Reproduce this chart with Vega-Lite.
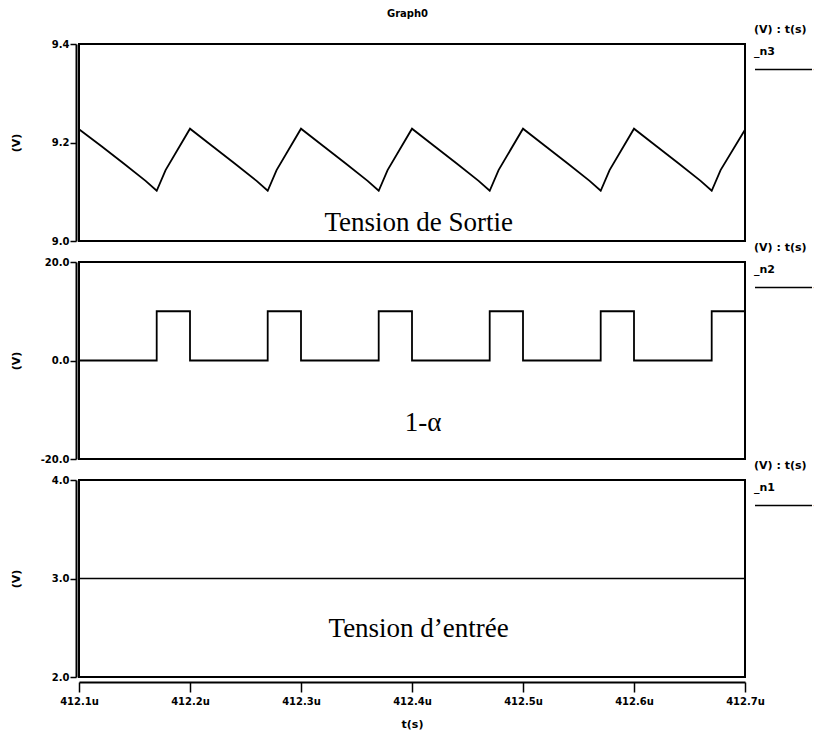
{
  "$schema": "https://vega.github.io/schema/vega-lite/v6.json",
  "background": "white",
  "padding": {"left": 9, "top": 9, "right": 0, "bottom": 4},
  "bounds": "flush",
  "spacing": 21,
  "title": {"text": "Graph0", "font": "DejaVu Sans", "fontSize": 10, "fontWeight": "bold", "color": "black", "anchor": "middle", "offset": 4, "dx": -5},
  "datasets": {
    "vout": [
      {"t": 412.1, "v": 9.227}, {"t": 412.12, "v": 9.193}, {"t": 412.14, "v": 9.158}, {"t": 412.16, "v": 9.122}, {"t": 412.17, "v": 9.102}, {"t": 412.178, "v": 9.144},
      {"t": 412.2, "v": 9.228}, {"t": 412.22, "v": 9.193}, {"t": 412.24, "v": 9.158}, {"t": 412.26, "v": 9.122}, {"t": 412.27, "v": 9.102}, {"t": 412.278, "v": 9.144},
      {"t": 412.3, "v": 9.228}, {"t": 412.32, "v": 9.193}, {"t": 412.34, "v": 9.158}, {"t": 412.36, "v": 9.122}, {"t": 412.37, "v": 9.102}, {"t": 412.378, "v": 9.144},
      {"t": 412.4, "v": 9.228}, {"t": 412.42, "v": 9.193}, {"t": 412.44, "v": 9.158}, {"t": 412.46, "v": 9.122}, {"t": 412.47, "v": 9.102}, {"t": 412.478, "v": 9.144},
      {"t": 412.5, "v": 9.228}, {"t": 412.52, "v": 9.193}, {"t": 412.54, "v": 9.158}, {"t": 412.56, "v": 9.122}, {"t": 412.57, "v": 9.102}, {"t": 412.578, "v": 9.144},
      {"t": 412.6, "v": 9.228}, {"t": 412.62, "v": 9.193}, {"t": 412.64, "v": 9.158}, {"t": 412.66, "v": 9.122}, {"t": 412.67, "v": 9.102}, {"t": 412.678, "v": 9.144},
      {"t": 412.7, "v": 9.226}
    ],
    "pwm": [
      {"t": 412.1, "v": 0}, {"t": 412.17, "v": 10}, {"t": 412.2, "v": 0},
      {"t": 412.27, "v": 10}, {"t": 412.3, "v": 0},
      {"t": 412.37, "v": 10}, {"t": 412.4, "v": 0},
      {"t": 412.47, "v": 10}, {"t": 412.5, "v": 0},
      {"t": 412.57, "v": 10}, {"t": 412.6, "v": 0},
      {"t": 412.67, "v": 10}, {"t": 412.7, "v": 10}
    ],
    "vin": [{"t": 412.1, "v": 3.0}, {"t": 412.7, "v": 3.0}],
    "notes1": [{"t": 412.406, "v": 9.02, "label": "Tension de Sortie"}],
    "notes2": [{"t": 412.41, "v": -14.3, "label": "1-α"}],
    "notes3": [{"t": 412.406, "v": 2.403, "label": "Tension d’entrée"}]
  },
  "resolve": {"scale": {"color": "independent", "y": "independent"}, "legend": {"color": "independent"}},
  "vconcat": [
    {
      "width": 666, "height": 197,
      "layer": [
        {
          "data": {"name": "vout"},
          "mark": {"type": "line", "strokeWidth": 1.8},
          "encoding": {
            "x": {"field": "t", "type": "quantitative", "scale": {"domain": [412.1, 412.7], "nice": false, "zero": false}, "axis": null},
            "y": {"field": "v", "type": "quantitative", "scale": {"domain": [9.0, 9.4], "nice": false, "zero": false},
                  "axis": {"title": "(V)", "values": [9.0, 9.2, 9.4], "labelExpr": "replace(format(datum.value, '.1f'), '−', '-')"}},
            "color": {"datum": "_n3", "scale": {"range": ["black"]},
                      "legend": {"orient": "none", "legendX": 675, "legendY": -20, "title": ["(V) : t(s)", "_n3"]}}
          }
        },
        {
          "data": {"name": "notes1"},
          "mark": {"type": "text", "font": "Liberation Serif", "fontSize": 27, "color": "black", "baseline": "alphabetic", "align": "center"},
          "encoding": {
            "x": {"field": "t", "type": "quantitative"},
            "y": {"field": "v", "type": "quantitative"},
            "text": {"field": "label"}
          }
        }
      ]
    },
    {
      "width": 666, "height": 197,
      "layer": [
        {
          "data": {"name": "pwm"},
          "mark": {"type": "line", "strokeWidth": 1.8, "interpolate": "step-after"},
          "encoding": {
            "x": {"field": "t", "type": "quantitative", "scale": {"domain": [412.1, 412.7], "nice": false, "zero": false}, "axis": null},
            "y": {"field": "v", "type": "quantitative", "scale": {"domain": [-20, 20], "nice": false, "zero": false},
                  "axis": {"title": "(V)", "values": [-20, 0, 20], "labelExpr": "replace(format(datum.value, '.1f'), '−', '-')"}},
            "color": {"datum": "_n2", "scale": {"range": ["black"]},
                      "legend": {"orient": "none", "legendX": 675, "legendY": -20, "title": ["(V) : t(s)", "_n2"]}}
          }
        },
        {
          "data": {"name": "notes2"},
          "mark": {"type": "text", "font": "Liberation Serif", "fontSize": 27, "color": "black", "baseline": "alphabetic", "align": "center"},
          "encoding": {
            "x": {"field": "t", "type": "quantitative"},
            "y": {"field": "v", "type": "quantitative"},
            "text": {"field": "label"}
          }
        }
      ]
    },
    {
      "width": 666, "height": 197,
      "layer": [
        {
          "data": {"name": "vin"},
          "mark": {"type": "line", "strokeWidth": 1.6},
          "encoding": {
            "x": {"field": "t", "type": "quantitative", "scale": {"domain": [412.1, 412.7], "nice": false, "zero": false},
                  "axis": {"title": "t(s)", "values": [412.1, 412.2, 412.3, 412.4, 412.5, 412.6, 412.7], "labelExpr": "format(datum.value, '.1f') + 'u'", "labelFlush": false, "labelOverlap": false, "offset": 5, "tickSize": 10, "labelPadding": 4, "titlePadding": 12}},
            "y": {"field": "v", "type": "quantitative", "scale": {"domain": [2, 4], "nice": false, "zero": false},
                  "axis": {"title": "(V)", "values": [2, 3, 4], "labelExpr": "replace(format(datum.value, '.1f'), '−', '-')"}},
            "color": {"datum": "_n1", "scale": {"range": ["black"]},
                      "legend": {"orient": "none", "legendX": 675, "legendY": -20, "title": ["(V) : t(s)", "_n1"]}}
          }
        },
        {
          "data": {"name": "notes3"},
          "mark": {"type": "text", "font": "Liberation Serif", "fontSize": 27, "color": "black", "baseline": "alphabetic", "align": "center"},
          "encoding": {
            "x": {"field": "t", "type": "quantitative"},
            "y": {"field": "v", "type": "quantitative"},
            "text": {"field": "label"}
          }
        }
      ]
    }
  ],
  "config": {
    "view": {"stroke": "black", "strokeWidth": 2},
    "axis": {
      "grid": false, "domainColor": "black", "domainWidth": 2, "tickColor": "black", "tickWidth": 1.5,
      "labelFont": "DejaVu Sans", "labelFontWeight": "bold", "labelFontSize": 10, "labelColor": "black",
      "titleFont": "DejaVu Sans", "titleFontWeight": "bold", "titleFontSize": 11, "titleColor": "black"
    },
    "axisY": {"offset": 3, "tickSize": 6, "labelPadding": 1, "titleX": -60, "titleBaseline": "middle", "titleAlign": "center"},
    "legend": {
      "padding": 0, "titleFont": "DejaVu Sans", "titleFontSize": 11, "titleFontWeight": "bold", "titleColor": "black",
      "titleLineHeight": 22, "titlePadding": -17, "titleAnchor": "start",
      "symbolType": "stroke", "symbolSize": 3249, "symbolStrokeWidth": 1.5, "symbolStrokeColor": "black",
      "labelExpr": "''", "labelFontSize": 1, "labelOffset": 0, "symbolOffset": 0
    }
  }
}
